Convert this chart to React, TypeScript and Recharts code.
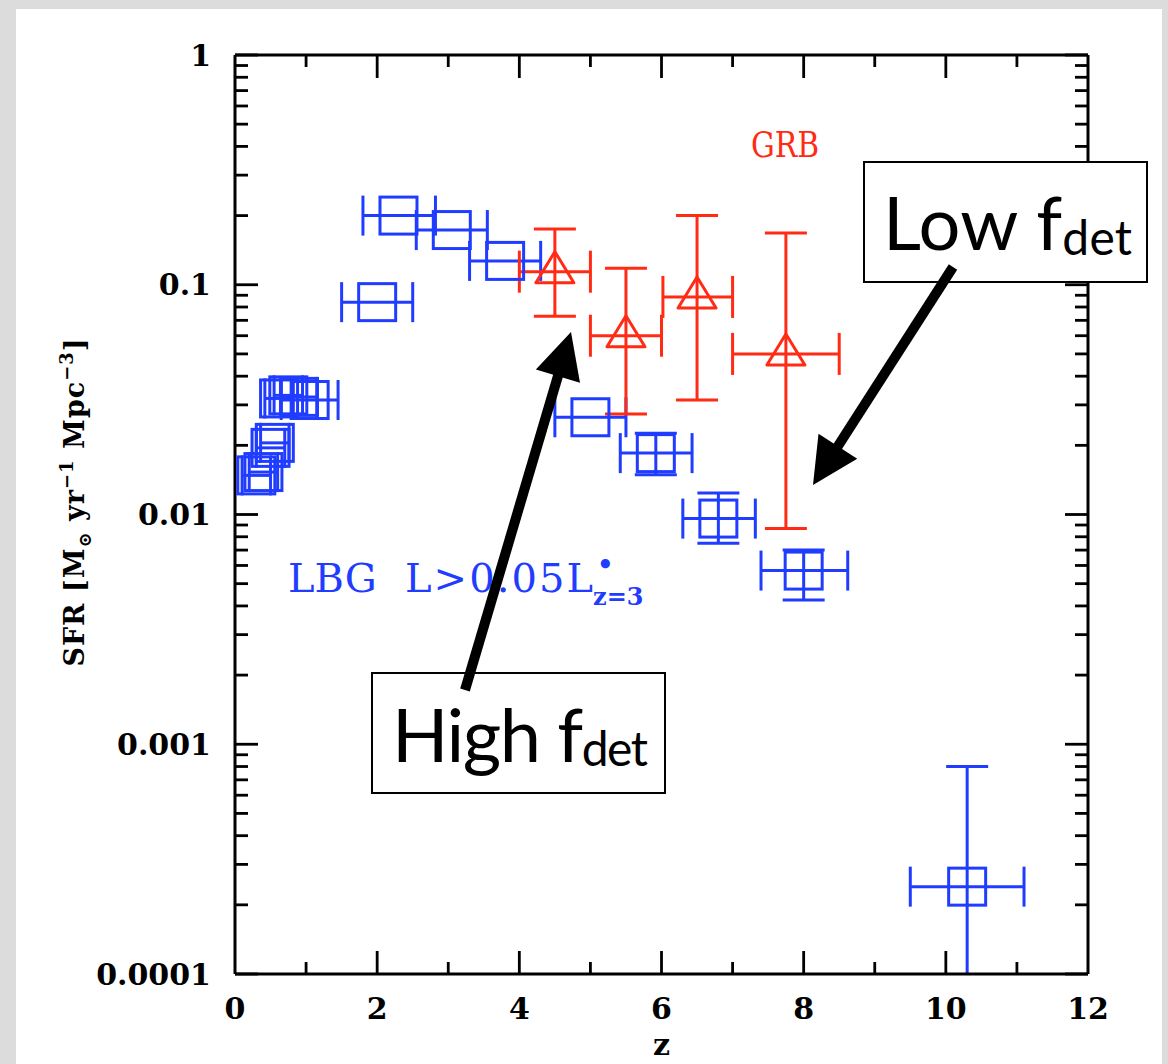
import React from 'react';
import { ScatterChart, Scatter, XAxis, YAxis, ErrorBar } from 'recharts';

// ---------- data: LBG (blue squares) ----------
const lbgZ = [0.3, 0.4, 0.5, 0.56, 0.62, 0.75, 0.9, 1.05, 2.0, 2.3, 3.05, 3.8, 5.0, 5.92, 6.8, 8.0, 10.3];
const lbgZLow = [0.1, 0.2, 0.3, 0.36, 0.42, 0.55, 0.65, 0.65, 1.5, 1.8, 2.55, 3.3, 4.5, 5.42, 6.3, 7.4, 9.5];
const lbgZHigh = [0.5, 0.6, 0.7, 0.76, 0.82, 0.95, 1.15, 1.45, 2.5, 2.82, 3.55, 4.3, 5.5, 6.43, 7.32, 8.62, 11.1];
const lbgSfr = [0.0148, 0.0153, 0.0195, 0.0205, 0.032, 0.033, 0.0325, 0.0315, 0.084, 0.2, 0.173, 0.127, 0.0265, 0.0185, 0.0096, 0.0057, 0.00024];
const lbgSfrLow = [null, null, null, null, null, null, null, null, null, null, null, null, null, 0.0149, 0.0075, 0.00425, 0.00004];
const lbgSfrHigh = [null, null, null, null, null, null, null, null, null, null, null, null, null, 0.0226, 0.0124, 0.007, 0.0008];

// ---------- data: GRB (red triangles) ----------
const grbZ = [4.5, 5.5, 6.5, 7.75];
const grbZLow = [4.0, 5.0, 6.02, 7.0];
const grbZHigh = [5.0, 6.0, 7.0, 8.5];
const grbSfr = [0.114, 0.06, 0.0885, 0.05];
const grbSfrLow = [0.073, 0.0274, 0.0315, 0.0087];
const grbSfrHigh = [0.175, 0.118, 0.2, 0.168];

// ---------- axis ticks ----------
const xMajorTicks = [0, 2, 4, 6, 8, 10, 12];
const xTickLabels = ['0', '2', '4', '6', '8', '10', '12'];
const xMinorTicks = [1, 3, 5, 7, 9, 11];
const xAllTicks = [...xMajorTicks, ...xMinorTicks].sort((a, b) => a - b);
const yMajorTicks = [0.0001, 0.001, 0.01, 0.1, 1];
const yTickLabels = ['0.0001', '0.001', '0.01', '0.1', '1'];
const yDecades = [0.0001, 0.001, 0.01, 0.1];
const yMinorSteps = [2, 3, 4, 5, 6, 7, 8, 9];
const yMinorTicks = yDecades.flatMap((d) => yMinorSteps.map((k) => Number((k * d).toPrecision(3))));

const BLUE = '#1f3cff';
const RED = '#ff2b14';

const lbgData = lbgZ.map((z, i) => ({
  z,
  sfr: lbgSfr[i],
  zErr: [z - lbgZLow[i], lbgZHigh[i] - z],
  sfrErr: lbgSfrLow[i] == null ? null : [lbgSfr[i] - (lbgSfrLow[i] as number), (lbgSfrHigh[i] as number) - lbgSfr[i]],
}));
const grbData = grbZ.map((z, i) => ({
  z,
  sfr: grbSfr[i],
  zErr: [z - grbZLow[i], grbZHigh[i] - z],
  sfrErr: [grbSfr[i] - grbSfrLow[i], grbSfrHigh[i] - grbSfr[i]],
}));

const W = 1168;
const H = 1064;
const margin = { left: 40, top: 55, right: 80, bottom: 0 };
const Y_AXIS_W = 195;
const X_AXIS_H = 90;
const PLOT = { x: margin.left + Y_AXIS_W, y: margin.top, w: W - margin.left - Y_AXIS_W - margin.right, h: H - margin.top - X_AXIS_H };

const FONT = 'DejaVu Serif';
const TICK_W = 2.8;
const tickText = { fill: '#000', fontSize: 30, fontFamily: FONT, fontWeight: 700 };
const tickLineStyle = { stroke: '#000', strokeWidth: TICK_W };
const frameLine = { stroke: '#000', strokeWidth: 3 };
const noTick = () => <g />;

// bottom axis tick: label for major ticks + inward tick marks on bottom and top frame
const XTick = (p: any) => {
  const v = p.payload?.value;
  const cx = p.x;
  const mi = xMajorTicks.indexOf(v);
  const isMajor = mi >= 0;
  const len = isMajor ? 23 : 12;
  const top = PLOT.y;
  const bottom = PLOT.y + PLOT.h;
  const inner = v > 0 && v < 12;
  return (
    <g>
      {inner && <path d={`M${cx},${bottom} L${cx},${bottom - len}`} style={{ stroke: '#000', strokeWidth: TICK_W, fill: 'none' }} />}
      {inner && <path d={`M${cx},${top} L${cx},${top + len}`} style={{ stroke: '#000', strokeWidth: TICK_W, fill: 'none' }} />}
      {isMajor && (
        <text x={cx} y={p.y} dy="0.72em" textAnchor="middle" fill="#000" fontSize={30} fontFamily={FONT} fontWeight={700}>
          {xTickLabels[mi]}
        </text>
      )}
    </g>
  );
};

const SquareShape = (p: any) => (
  <rect x={p.cx - 18.5} y={p.cy - 18.5} width={37} height={37} fill="none" stroke={BLUE} strokeWidth={3} />
);
const TriangleShape = (p: any) => (
  <polygon
    points={`${p.cx},${p.cy - 20} ${p.cx - 19},${p.cy + 11} ${p.cx + 19},${p.cy + 11}`}
    fill="none"
    stroke={RED}
    strokeWidth={3}
    strokeLinejoin="round"
  />
);

const YLabel = () => (
  <text
    transform="translate(84,502) rotate(-90)"
    textAnchor="middle"
    fontFamily={FONT}
    fontWeight={700}
    fontSize={27}
    letterSpacing={1}
    fill="#000"
  >
    SFR [M<tspan fontSize={18} dy={7}>⊙</tspan>
    <tspan dy={-7}> yr</tspan>
    <tspan fontSize={18} dy={-11}>−1</tspan>
    <tspan dy={11}> Mpc</tspan>
    <tspan fontSize={18} dy={-11}>−3</tspan>
    <tspan dy={11}>]</tspan>
  </text>
);

const XLabel = (props: any) => {
  const vb = props.viewBox || { x: PLOT.x, width: PLOT.w };
  return (
    <text x={vb.x + vb.width / 2} y={1055} textAnchor="middle" fontFamily={FONT} fontWeight={700} fontSize={30} fill="#000">
      z
    </text>
  );
};

function Arrow({ x1, y1, x2, y2 }: { x1: number; y1: number; x2: number; y2: number }) {
  const dx = x2 - x1;
  const dy = y2 - y1;
  const len = Math.sqrt(dx * dx + dy * dy);
  const ux = dx / len;
  const uy = dy / len;
  const headLen = 46;
  const hw = 23;
  const bx = x2 - ux * headLen;
  const by = y2 - uy * headLen;
  const nx = -uy;
  const ny = ux;
  return (
    <g>
      <line x1={x1} y1={y1} x2={bx + ux * 4} y2={by + uy * 4} stroke="#000" strokeWidth={10} />
      <polygon points={`${x2},${y2} ${bx + nx * hw},${by + ny * hw} ${bx - nx * hw},${by - ny * hw}`} fill="#000" />
    </g>
  );
}

export default function App() {
  return (
    <div style={{ position: 'absolute', left: 0, top: 0, width: W, height: H, background: '#dcdcdc', overflow: 'hidden' }}>
      <style>{`.recharts-errorBar { clip-path: url(#plotAreaClip); }`}</style>
      <svg style={{ position: 'absolute', left: 0, top: 0 }} width={0} height={0}>
        <defs>
          <clipPath id="plotAreaClip" clipPathUnits="userSpaceOnUse">
            <rect x={PLOT.x} y={PLOT.y} width={PLOT.w} height={PLOT.h} />
          </clipPath>
        </defs>
      </svg>
      <div style={{ position: 'absolute', left: 16, top: 9, width: 1146, height: H - 9, background: '#ffffff' }} />
      <div style={{ position: 'absolute', left: 0, top: 0 }}>
        <ScatterChart width={W} height={H} margin={margin}>
          <XAxis
            xAxisId="main"
            dataKey="z"
            type="number"
            domain={[0, 12]}
            allowDataOverflow
            ticks={xAllTicks}
            interval={0}
            tick={XTick}
            tickLine={false}
            tickSize={0}
            tickMargin={23}
            axisLine={frameLine}
            height={X_AXIS_H}
            label={{ content: (p: any) => <XLabel {...p} /> }}
          />
          <YAxis
            yAxisId="main"
            dataKey="sfr"
            type="number"
            scale="log"
            domain={[0.0001, 1]}
            allowDataOverflow
            ticks={yMajorTicks}
            interval={0}
            tickFormatter={(v: number) => yTickLabels[yMajorTicks.indexOf(v)]}
            tick={tickText}
            tickLine={false}
            tickSize={0}
            tickMargin={24}
            axisLine={frameLine}
            width={Y_AXIS_W}
            label={{ content: () => <YLabel /> }}
          />
          {/* top frame line */}
          <XAxis xAxisId="top" type="number" domain={[0, 12]} allowDataOverflow orientation="top" mirror height={1}
            ticks={xMajorTicks} interval={0} tick={noTick} tickLine={false} axisLine={frameLine} />
          {/* left inward ticks */}
          <YAxis yAxisId="lMaj" type="number" scale="log" domain={[0.0001, 1]} allowDataOverflow orientation="left" mirror width={1}
            ticks={yMajorTicks} interval={0} tick={noTick} tickSize={23} tickLine={tickLineStyle} axisLine={false} />
          <YAxis yAxisId="lMin" type="number" scale="log" domain={[0.0001, 1]} allowDataOverflow orientation="left" mirror width={1}
            ticks={yMinorTicks} interval={0} tick={noTick} tickSize={12} tickLine={tickLineStyle} axisLine={false} />
          {/* right frame + inward ticks */}
          <YAxis yAxisId="rMaj" type="number" scale="log" domain={[0.0001, 1]} allowDataOverflow orientation="right" mirror width={1}
            ticks={yMajorTicks} interval={0} tick={noTick} tickSize={23} tickLine={tickLineStyle} axisLine={frameLine} />
          <YAxis yAxisId="rMin" type="number" scale="log" domain={[0.0001, 1]} allowDataOverflow orientation="right" mirror width={1}
            ticks={yMinorTicks} interval={0} tick={noTick} tickSize={12} tickLine={tickLineStyle} axisLine={false} />

          <Scatter name="LBG" data={lbgData} xAxisId="main" yAxisId="main" shape={SquareShape} isAnimationActive={false}>
            <ErrorBar dataKey="zErr" direction="x" width={20} stroke={BLUE} strokeWidth={3} isAnimationActive={false} />
            <ErrorBar dataKey="sfrErr" direction="y" width={21} stroke={BLUE} strokeWidth={3} isAnimationActive={false} />
          </Scatter>
          <Scatter name="GRB" data={grbData} xAxisId="main" yAxisId="main" shape={TriangleShape} isAnimationActive={false}>
            <ErrorBar dataKey="zErr" direction="x" width={21} stroke={RED} strokeWidth={3} isAnimationActive={false} />
            <ErrorBar dataKey="sfrErr" direction="y" width={21} stroke={RED} strokeWidth={3} isAnimationActive={false} />
          </Scatter>
        </ScatterChart>
      </div>
      <svg style={{ position: 'absolute', left: 0, top: 0 }} width={W} height={H}>
        <text x={751} y={157} fill={RED} fontFamily={FONT} fontSize={36} textLength={68} lengthAdjust="spacingAndGlyphs">GRB</text>
        <text y={592} fill={BLUE} fontFamily={FONT} fontSize={40}>
          <tspan x={288}>LBG</tspan>
          <tspan x={405} textLength={188}>L&gt;0.05L</tspan>
          <tspan x={597} y={573} fontSize={26} fontWeight={700}>•</tspan>
          <tspan x={593} y={605} fontSize={24} fontWeight={700}>z=3</tspan>
        </text>
        <rect x={864} y={162} width={283} height={120} fill="#fff" stroke="#000" strokeWidth={2} />
        <text x={883} y={250} fontFamily="Lato" fontSize={74} fill="#000" textLength={249}>
          Low f<tspan fontSize={48} dy={5}>det</tspan>
        </text>
        <rect x={372} y={673} width={293} height={120} fill="#fff" stroke="#000" strokeWidth={2} />
        <text x={392} y={762} fontFamily="Lato" fontSize={74} fill="#000" textLength={256}>
          High f<tspan fontSize={48} dy={4}>det</tspan>
        </text>
        <Arrow x1={465} y1={690} x2={571} y2={332} />
        <Arrow x1={953} y1={267} x2={813} y2={485} />
      </svg>
    </div>
  );
}
